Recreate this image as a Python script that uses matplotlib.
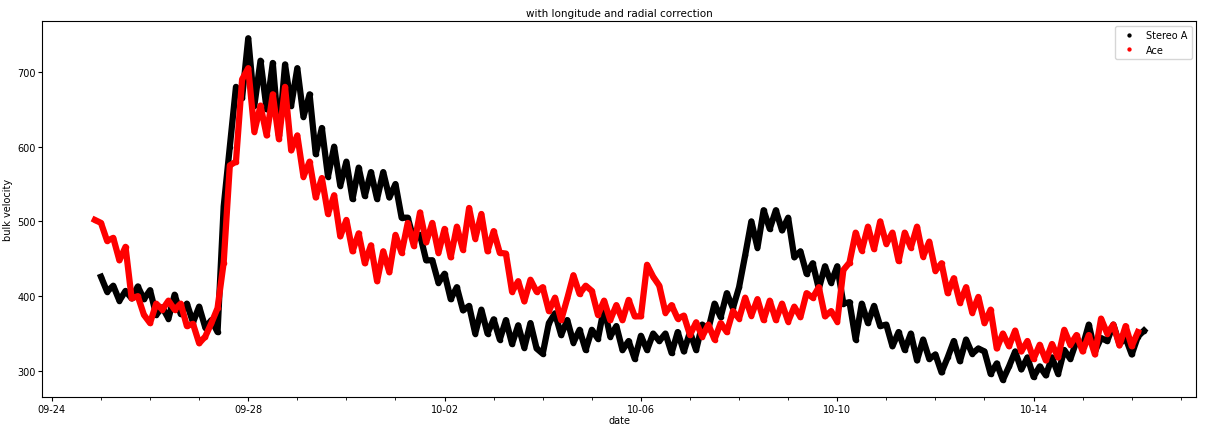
import numpy as np
import pandas as pd
import matplotlib
matplotlib.use("Agg")
import matplotlib.pyplot as plt
import matplotlib.dates as mdates

# bulk velocity, 3-hourly samples
stereo_start = "2021-09-25 00:00"
stereo_v = [
    426, 406, 414, 394, 407, 397, 413, 396,
    408, 375, 385, 370, 402, 376, 390, 365,
    386, 358, 368, 352, 520, 600, 680, 665,
    745, 655, 715, 650, 712, 615, 710, 655,
    705, 640, 670, 590, 625, 560, 600, 548,
    580, 530, 572, 534, 566, 530, 566, 532,
    550, 505, 505, 475, 482, 448, 448, 418,
    430, 396, 412, 381, 387, 350, 382, 350,
    369, 342, 368, 336, 361, 331, 364, 330,
    323, 364, 377, 348, 368, 338, 355, 328,
    355, 343, 385, 346, 360, 328, 340, 316,
    347, 328, 350, 340, 350, 324, 352, 326,
    352, 328, 362, 356, 390, 372, 404, 384,
    412, 455, 500, 465, 515, 490, 515, 488,
    505, 452, 460, 430, 444, 410, 440, 418,
    440, 390, 392, 342, 390, 364, 387, 360,
    362, 333, 352, 328, 350, 314, 342, 316,
    322, 298, 318, 340, 313, 342, 323, 330,
    326, 296, 310, 288, 306, 326, 302, 318,
    292, 306, 294, 318, 296, 328, 316, 340,
    333, 362, 326, 344, 340, 362, 336, 344,
    322, 346, 354,
]

ace_start = "2021-09-24 21:00"
ace_v = [
    502,
    498, 474, 478, 448, 466, 397, 400, 375,
    364, 390, 382, 394, 382, 390, 360, 363,
    337, 346, 364, 384, 445, 575, 580, 690,
    705, 620, 655, 615, 670, 610, 680, 595,
    615, 560, 580, 532, 558, 510, 535, 480,
    502, 460, 484, 444, 468, 420, 460, 432,
    482, 458, 498, 467, 512, 472, 498, 458,
    490, 452, 493, 462, 518, 477, 510, 460,
    487, 458, 457, 406, 420, 393, 422, 406,
    412, 380, 398, 368, 397, 428, 403, 414,
    407, 375, 394, 368, 388, 368, 395, 373,
    373, 442, 426, 414, 378, 388, 370, 374,
    348, 365, 346, 362, 342, 364, 352, 380,
    370, 398, 374, 396, 368, 394, 368, 390,
    366, 386, 372, 404, 398, 412, 373, 380,
    366, 435, 445, 485, 461, 493, 463, 500,
    470, 485, 447, 485, 465, 493, 453, 473,
    434, 444, 404, 424, 391, 412, 378, 399,
    364, 382, 330, 350, 333, 354, 326, 340,
    316, 335, 314, 336, 318, 355, 335, 348,
    326, 348, 322, 370, 350, 362, 334, 360,
    333, 352,
]

stereo_t = pd.date_range(stereo_start, periods=len(stereo_v), freq="3h")
ace_t = pd.date_range(ace_start, periods=len(ace_v), freq="3h")

fig, ax = plt.subplots(figsize=(12.11, 4.27), dpi=100)
fig.subplots_adjust(left=0.035, right=0.988, top=0.948, bottom=0.068)

ax.plot(stereo_t, stereo_v, "-", color="black", lw=4.5, label="_nolegend_")
ax.plot(stereo_t, stereo_v, ".", color="black", ms=6, label="Stereo A")
ax.plot(ace_t, ace_v, "-", color="red", lw=4.5, label="_nolegend_")
ax.plot(ace_t, ace_v, ".", color="red", ms=6, label="Ace")

ax.set_xticks(pd.date_range("2021-09-24", periods=6, freq="4D"))
ax.xaxis.set_minor_locator(mdates.DayLocator())
ax.xaxis.set_major_formatter(mdates.DateFormatter("%m-%d"))
ax.set_yticks([300, 400, 500, 600, 700])
ax.tick_params(labelsize=7, length=3, pad=2)
ax.tick_params(which="minor", length=2)

ax.set_xlabel("date", fontsize=7, labelpad=1)
ax.set_ylabel("bulk velocity", fontsize=7, labelpad=3)
ax.set_title("with longitude and radial correction", fontsize=7.5, pad=4)
ax.legend(loc="upper right", fontsize=7, markerscale=0.7)

fig.savefig("out.png", dpi=100)
